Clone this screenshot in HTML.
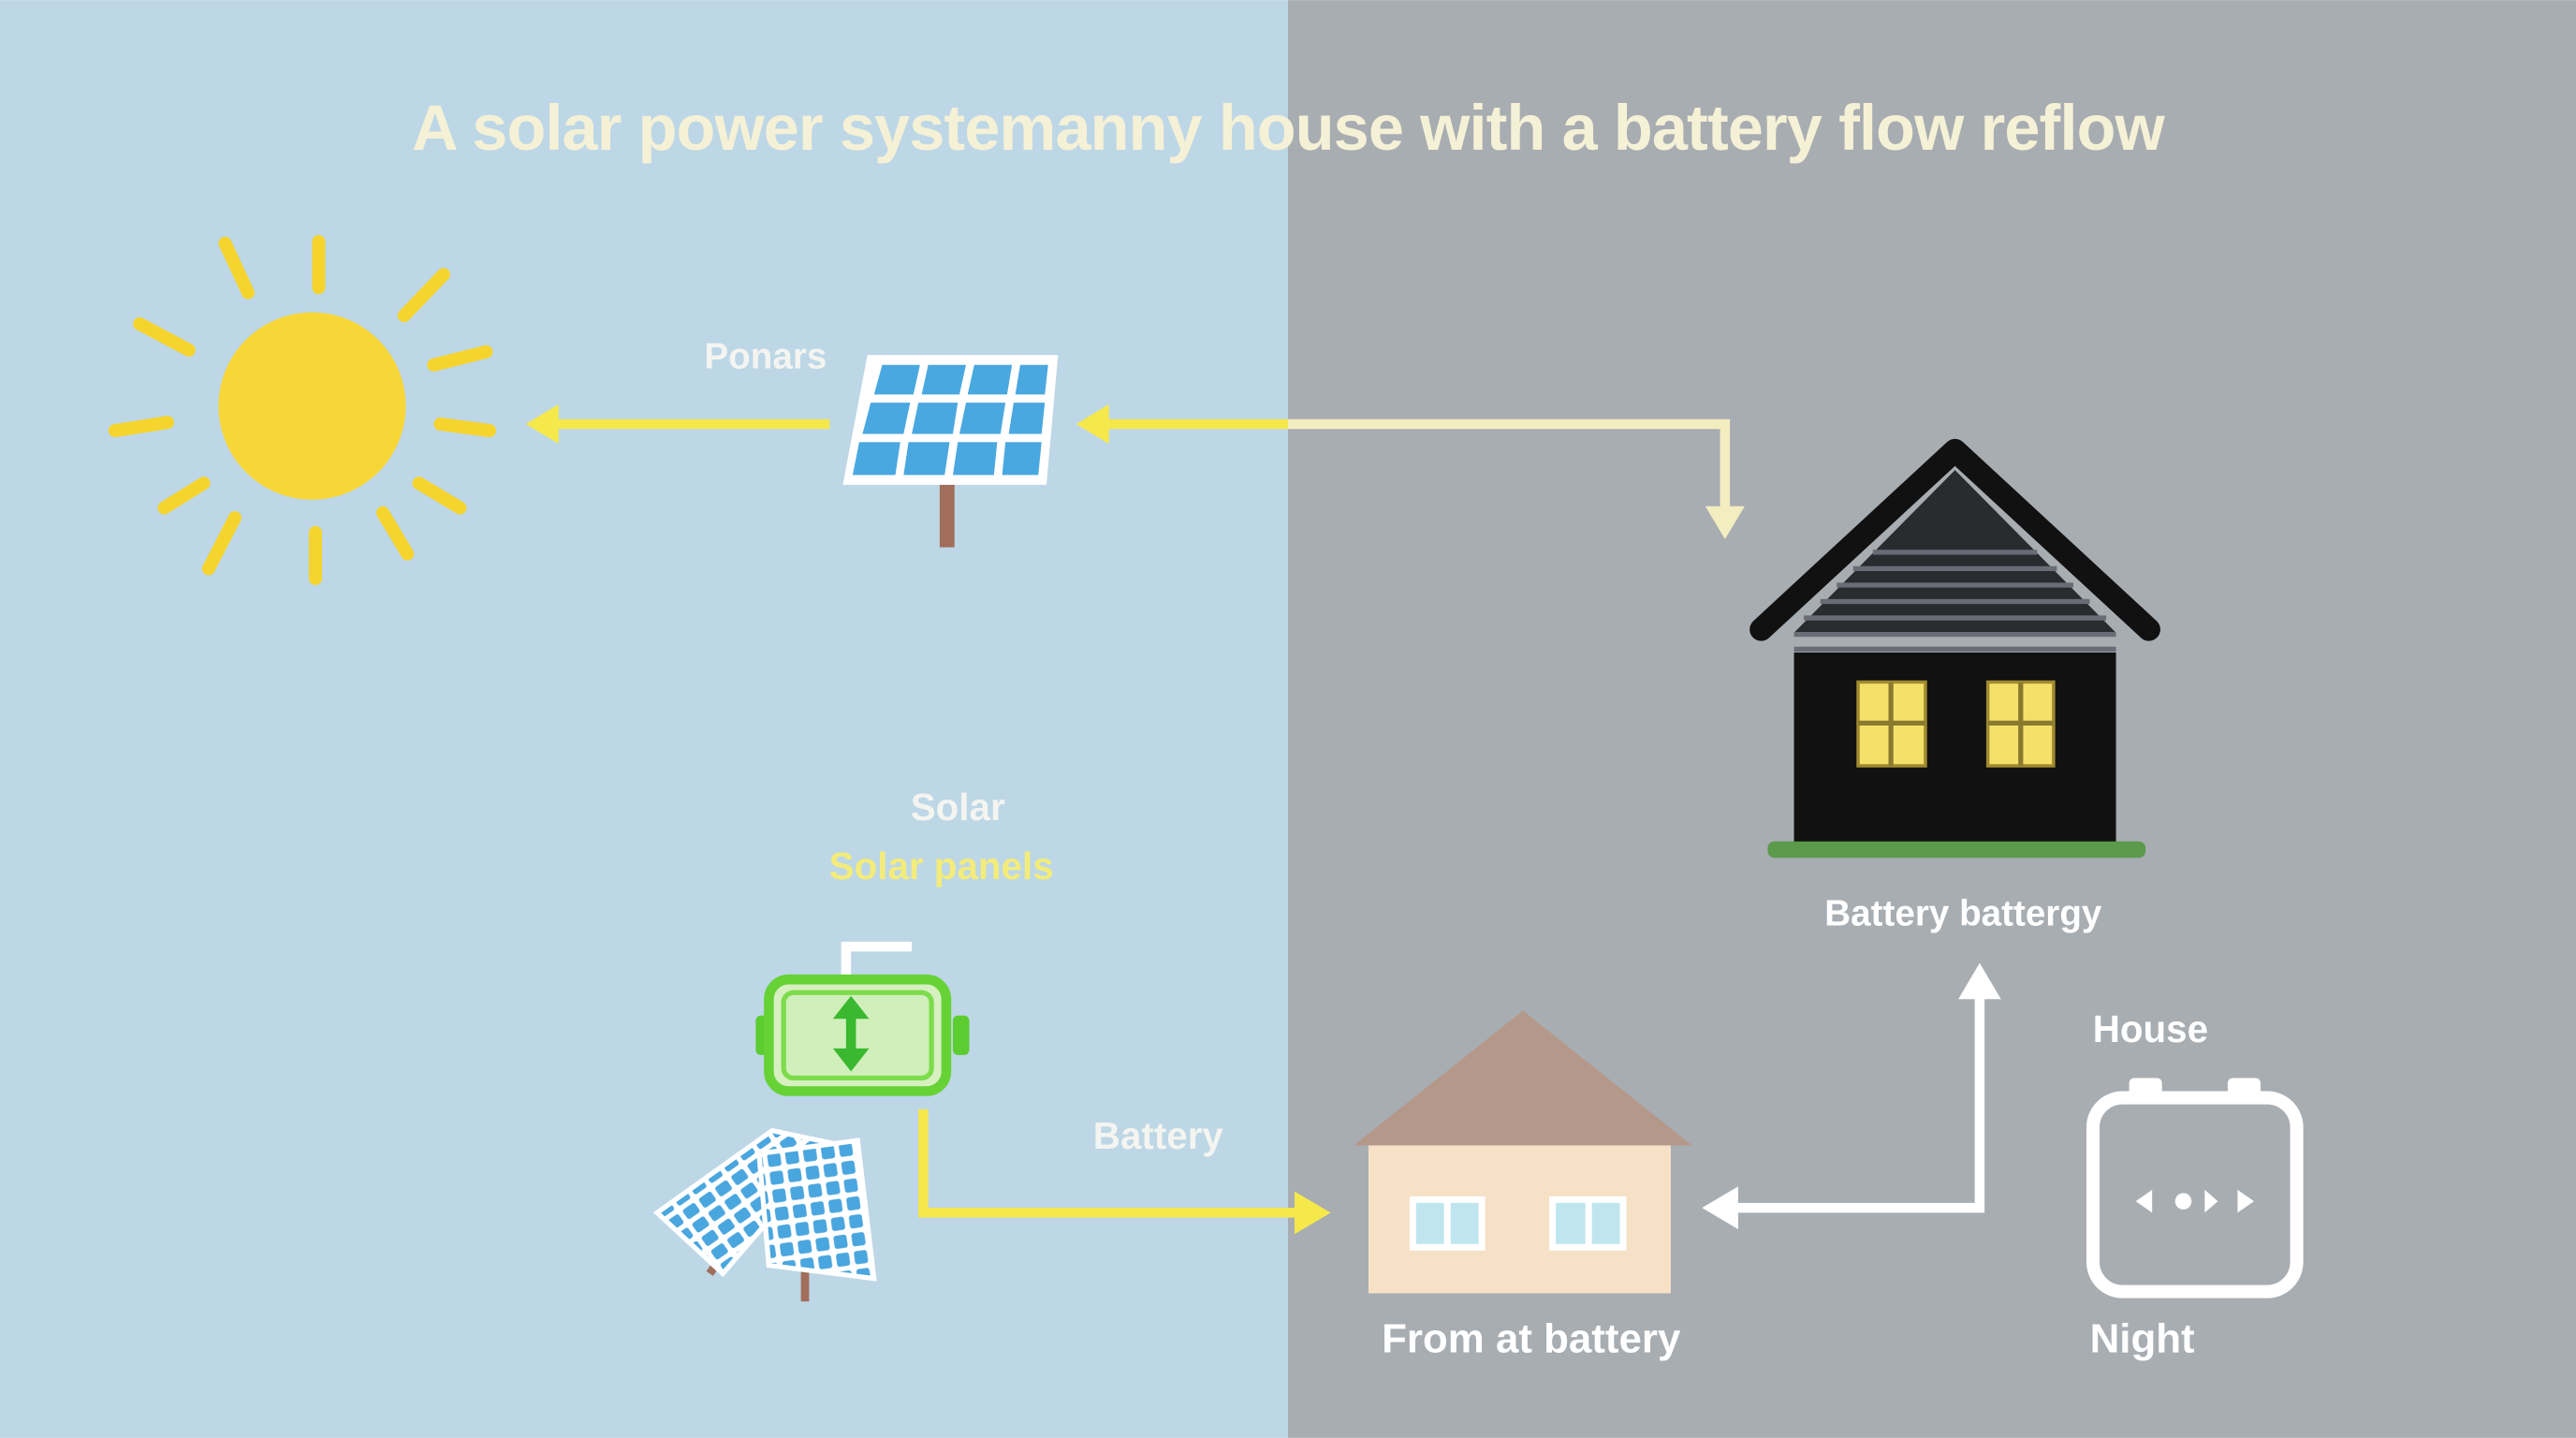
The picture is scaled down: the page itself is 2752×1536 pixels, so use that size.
<!DOCTYPE html>
<html><head><meta charset="utf-8"><style>
html,body{margin:0;padding:0;width:2752px;height:1536px;overflow:hidden}
svg{display:block}
text{font-family:"Liberation Sans",sans-serif}
</style></head><body>
<svg width="2752" height="1536" viewBox="0 0 1568 875" xmlns="http://www.w3.org/2000/svg">
<defs>
<pattern id="cells" width="12" height="10" patternUnits="userSpaceOnUse" patternTransform="rotate(-35)">
<rect width="12" height="10" fill="#ffffff"/><rect x="1.5" y="1.5" width="9" height="7" rx="1.5" fill="#4aa6de"/>
</pattern>
<pattern id="cells2" width="11" height="11" patternUnits="userSpaceOnUse" patternTransform="rotate(-8)">
<rect width="11" height="11" fill="#ffffff"/><rect x="1.5" y="1.5" width="8" height="8" rx="1.5" fill="#4aa6de"/>
</pattern>
</defs>
<rect x="0" y="0" width="784" height="875" fill="#bdd7e6"/>
<rect x="784" y="0" width="784" height="875" fill="#a8adb2"/>
<text x="784" y="91" text-anchor="middle" font-size="39" font-weight="bold" fill="#f5f1d6" letter-spacing="-0.5">A solar  power systemanny house with a battery flow reflow</text>

<g>
<circle cx="190" cy="247" r="57" fill="#f7d638"/>
<g stroke="#f5d42e" stroke-width="8" stroke-linecap="round">
<line x1="194" y1="147" x2="194" y2="175"/><line x1="137" y1="148" x2="151" y2="178"/>
<line x1="85" y1="197" x2="115" y2="213"/><line x1="70" y1="262" x2="102" y2="257"/>
<line x1="100" y1="309" x2="124" y2="294"/><line x1="127" y1="346" x2="143" y2="315"/>
<line x1="192" y1="352" x2="192" y2="324"/><line x1="248" y1="337" x2="233" y2="312"/>
<line x1="280" y1="309" x2="255" y2="294"/><line x1="298" y1="262" x2="268" y2="258"/>
<line x1="296" y1="214" x2="264" y2="222"/><line x1="270" y1="167" x2="246" y2="192"/>
</g></g>

<g>
<rect x="572" y="293" width="9" height="40" fill="#a06e5a"/>
<polygon points="528,216 644,216 637,295 513,295" fill="#ffffff"/>
<g fill="#4aa8e0">
<polygon points="537,222 560,222 556,240 532,240"/><polygon points="565,222 588,222 584,240 561,240"/>
<polygon points="593,222 616,222 613,240 589,240"/><polygon points="621,222 638,222 636,240 618,240"/>
<polygon points="530,245 554,245 550,264 525,264"/><polygon points="559,245 583,245 580,264 555,264"/>
<polygon points="588,245 612,245 609,264 584,264"/><polygon points="617,245 636,245 634,264 614,264"/>
<polygon points="523,269 548,269 545,289 519,289"/><polygon points="553,269 578,269 575,289 550,289"/>
<polygon points="583,269 607,269 605,289 580,289"/><polygon points="612,269 634,269 632,289 610,289"/>
</g></g>

<g>
<line x1="505" y1="258" x2="335" y2="258" stroke="#f5e84a" stroke-width="6"/>
<polygon points="320,258 340,246 340,270" fill="#f5e84a"/></g>
<g>
<line x1="784" y1="258" x2="672" y2="258" stroke="#f5e84a" stroke-width="6"/>
<polygon points="655,258 675,246 675,270" fill="#f5e84a"/></g>
<g>
<polyline points="784,258 1050,258 1050,312" fill="none" stroke="#f3eec0" stroke-width="6"/>
<polygon points="1050,328 1038,308 1062,308" fill="#f3eec0"/></g>
<text x="466" y="224" text-anchor="middle" font-size="22" font-weight="bold" fill="#f4f4f0">Ponars</text>

<g>
<polygon points="1092,385 1190,286 1288,385" fill="#2a2b2e"/>
<g stroke="#6a6c75" stroke-width="3">
<line x1="1140" y1="336" x2="1240" y2="336"/><line x1="1128" y1="346" x2="1252" y2="346"/>
<line x1="1118" y1="356" x2="1262" y2="356"/><line x1="1108" y1="366" x2="1272" y2="366"/>
<line x1="1098" y1="376" x2="1282" y2="376"/><line x1="1092" y1="386" x2="1288" y2="386"/>
<line x1="1092" y1="395" x2="1288" y2="395"/></g>
<rect x="1092" y="397" width="196" height="116" fill="#111111"/>
<polyline points="1072,383 1190,274 1308,383" fill="none" stroke="#111" stroke-width="14" stroke-linecap="round" stroke-linejoin="round"/>
<rect x="1131" y="415" width="41" height="51" fill="#f5e06a" stroke="#a08a30" stroke-width="2"/>
<rect x="1210" y="415" width="40" height="51" fill="#f5e06a" stroke="#a08a30" stroke-width="2"/>
<g stroke="#8a7a30" stroke-width="3"><line x1="1151" y1="415" x2="1151" y2="466"/><line x1="1131" y1="440" x2="1172" y2="440"/>
<line x1="1230" y1="415" x2="1230" y2="466"/><line x1="1210" y1="440" x2="1250" y2="440"/></g>
<rect x="1076" y="512" width="230" height="10" rx="4" fill="#5a9a4a"/></g>
<text x="1195" y="563" text-anchor="middle" font-size="22" font-weight="bold" fill="#ffffff">Battery battergy</text>

<text x="583" y="499" text-anchor="middle" font-size="23" font-weight="bold" fill="#f4f4f0">Solar</text>
<text x="573" y="535" text-anchor="middle" font-size="23" font-weight="bold" fill="#f3ec7a">Solar panels</text>

<g>
<polyline points="555,576 515,576 515,597" fill="none" stroke="#ffffff" stroke-width="6"/>
<rect x="460" y="618" width="10" height="24" rx="3" fill="#5ccc30"/>
<rect x="580" y="618" width="10" height="24" rx="3" fill="#5ccc30"/>
<rect x="468" y="596" width="108" height="68" rx="12" fill="#d6f0c0" stroke="#66d236" stroke-width="6"/>
<rect x="477" y="604" width="90" height="52" rx="6" fill="#d0efbb" stroke="#7ddc4c" stroke-width="3"/>
<line x1="518" y1="616" x2="518" y2="644" stroke="#3ab830" stroke-width="6"/>
<polygon points="518,606 507,620 529,620" fill="#3ab830"/><polygon points="518,652 507,638 529,638" fill="#3ab830"/></g>

<g>
<polyline points="562,675 562,738 792,738" fill="none" stroke="#f5e84a" stroke-width="6"/>
<polygon points="810,738 788,725 788,751" fill="#f5e84a"/></g>
<text x="705" y="699" text-anchor="middle" font-size="23" font-weight="bold" fill="#f4f4f0">Battery</text>

<g>
<line x1="432" y1="775" x2="446" y2="755" stroke="#a06e5a" stroke-width="5"/>
<line x1="490" y1="770" x2="490" y2="792" stroke="#a06e5a" stroke-width="5"/>
<polygon points="400,738 470,688 508,696 440,775" fill="url(#cells)" stroke="#fff" stroke-width="3"/>
<polygon points="462,702 522,694 532,778 468,770" fill="url(#cells2)" stroke="#fff" stroke-width="3"/></g>

<g>
<polygon points="824,697 927,615 1030,697" fill="#b4998a"/>
<rect x="833" y="697" width="184" height="90" fill="#f6e1c7"/>
<rect x="858" y="728" width="46" height="33" fill="#fff"/><rect x="862" y="732" width="17" height="25" fill="#bfe6ee"/><rect x="883" y="732" width="17" height="25" fill="#bfe6ee"/>
<rect x="943" y="728" width="47" height="33" fill="#fff"/><rect x="947" y="732" width="18" height="25" fill="#bfe6ee"/><rect x="969" y="732" width="17" height="25" fill="#bfe6ee"/></g>
<text x="932" y="823" text-anchor="middle" font-size="25" font-weight="bold" fill="#ffffff">From at battery</text>

<g>
<polyline points="1055,735 1205,735 1205,605" fill="none" stroke="#ffffff" stroke-width="6"/>
<polygon points="1036,735 1058,722 1058,748" fill="#fff"/>
<polygon points="1205,586 1192,608 1218,608" fill="#fff"/></g>
<text x="1309" y="634" text-anchor="middle" font-size="23" font-weight="bold" fill="#ffffff">House</text>

<g>
<rect x="1296" y="656" width="20" height="12" rx="3" fill="#fff"/><rect x="1356" y="656" width="20" height="12" rx="3" fill="#fff"/>
<rect x="1274" y="668" width="124" height="118" rx="18" fill="none" stroke="#fff" stroke-width="8"/>
<polygon points="1300,731 1310,724 1310,738" fill="#fff"/><circle cx="1329" cy="731" r="5" fill="#fff"/>
<polygon points="1342,724 1350,731 1342,738" fill="#fff"/>
<polygon points="1362,724 1372,731 1362,738" fill="#fff"/></g>
<text x="1304" y="823" text-anchor="middle" font-size="25" font-weight="bold" fill="#ffffff">Night</text>
</svg>
</body></html>
